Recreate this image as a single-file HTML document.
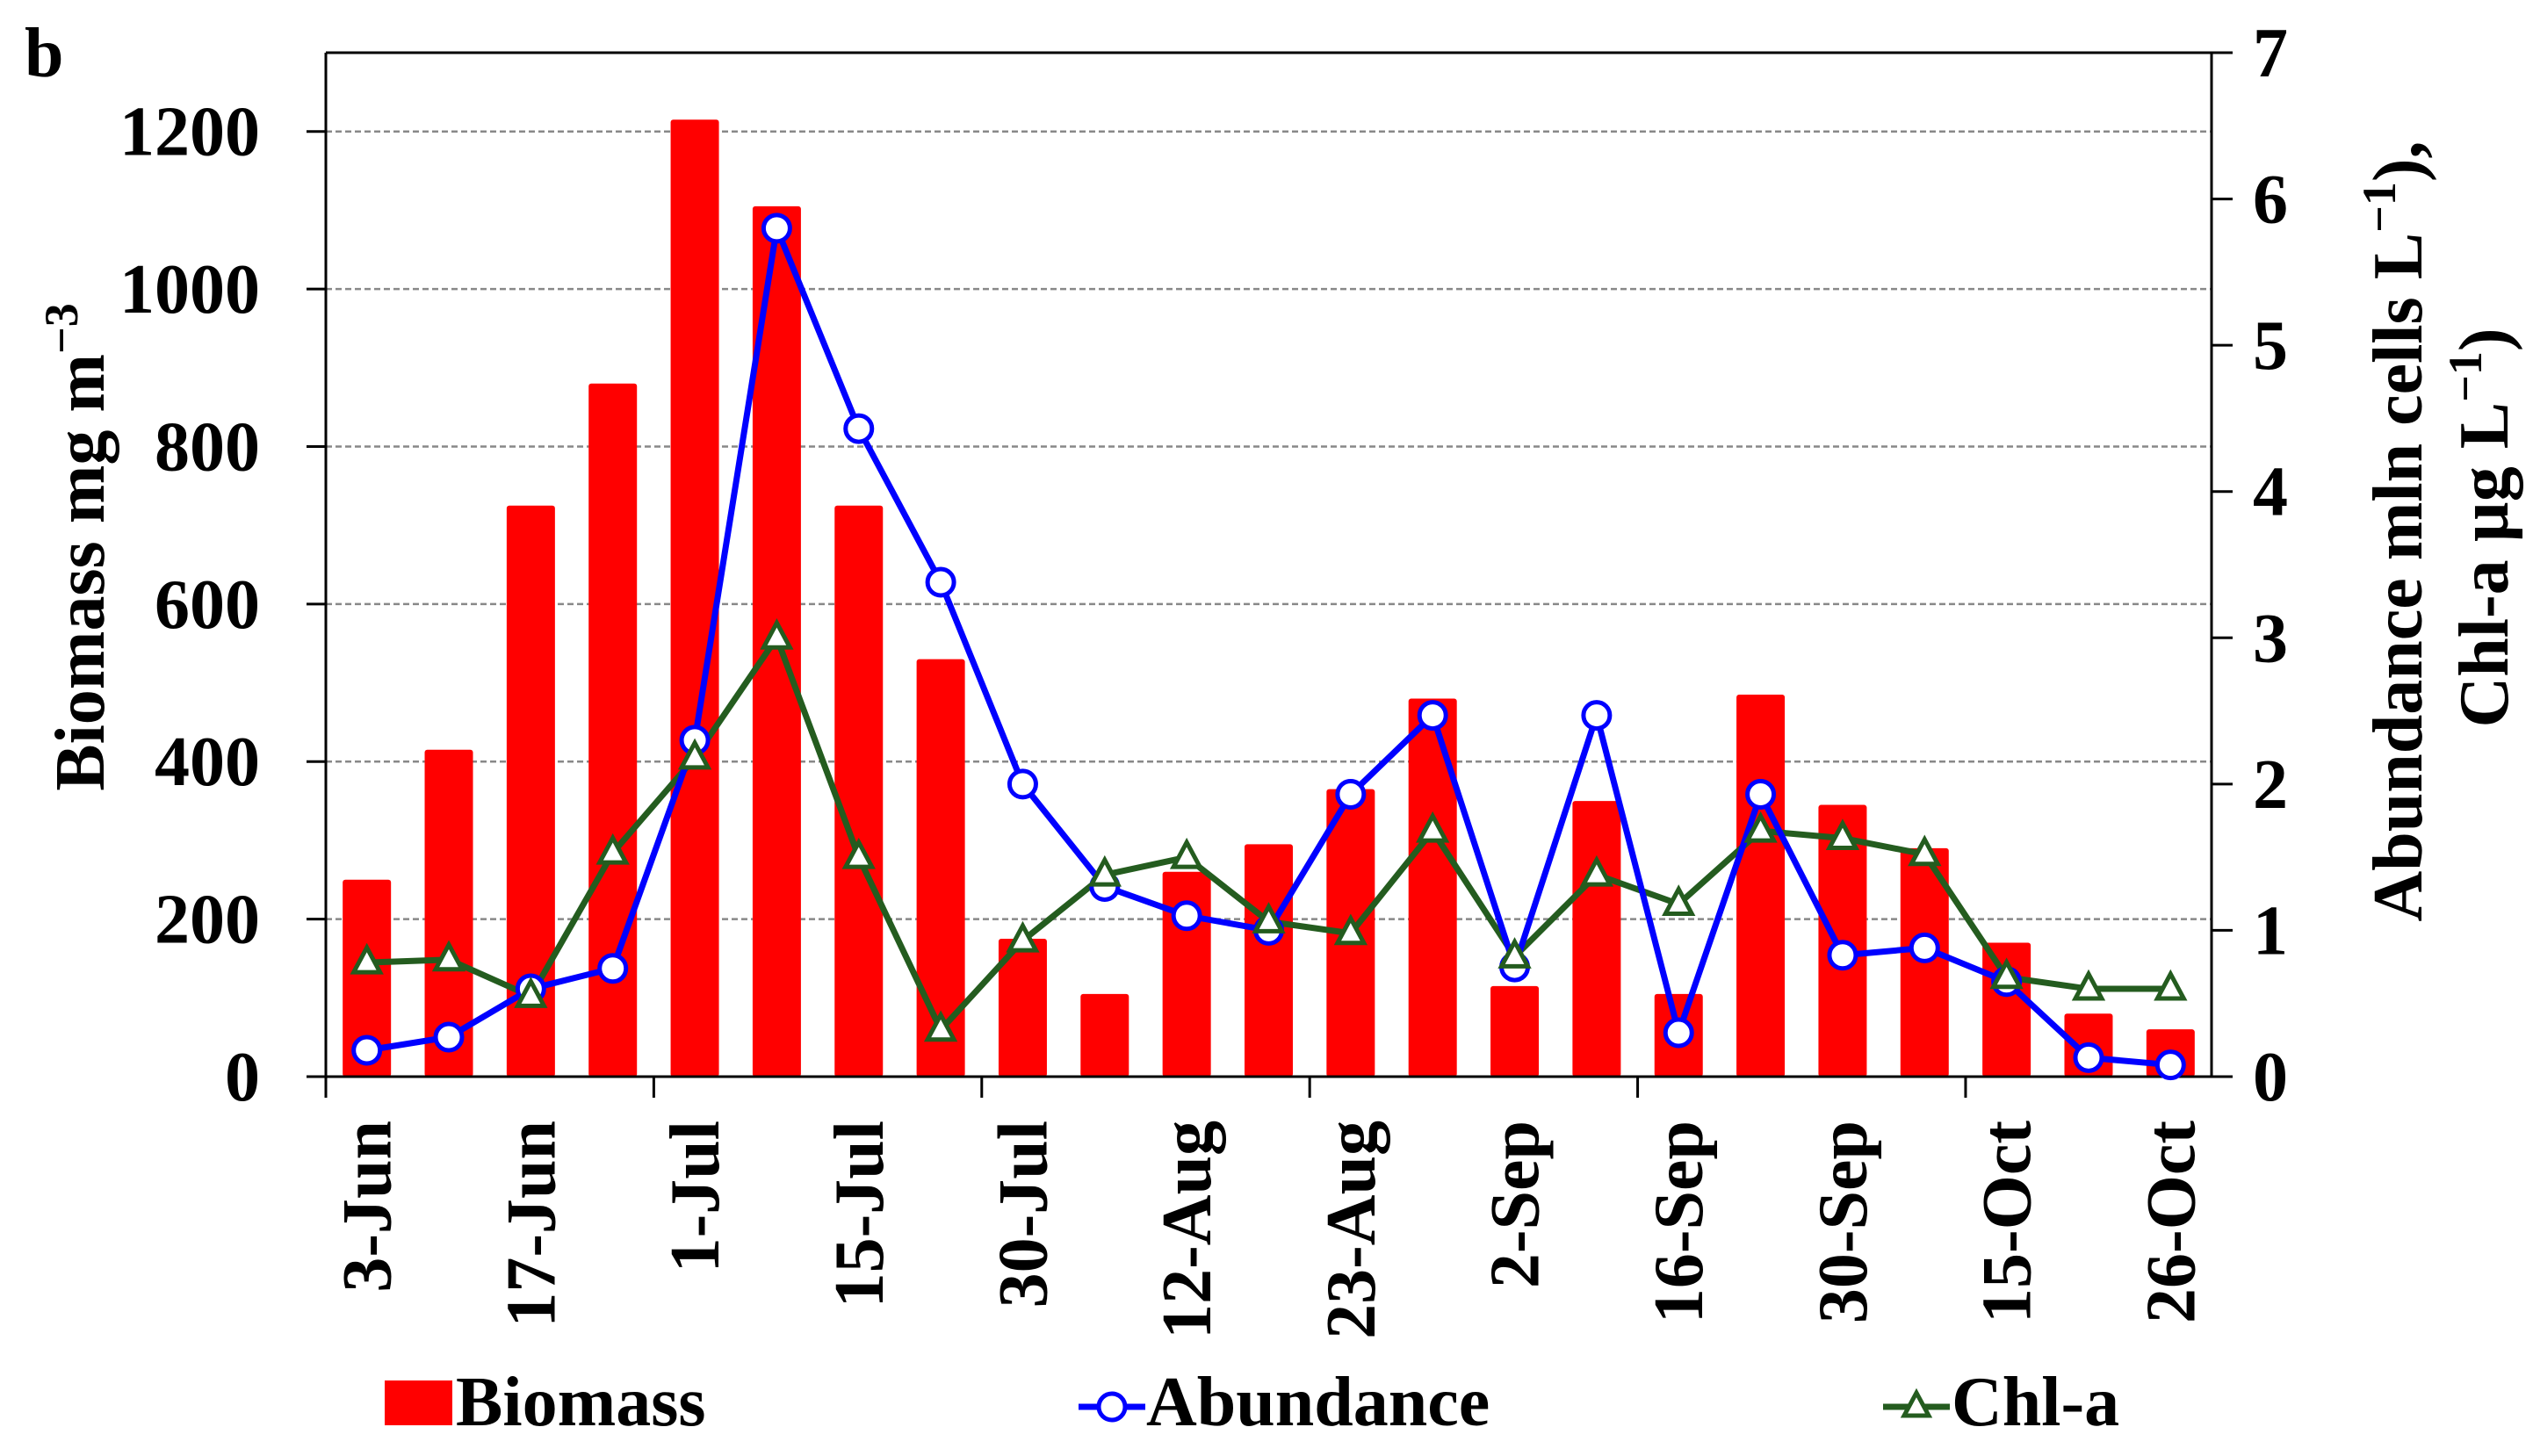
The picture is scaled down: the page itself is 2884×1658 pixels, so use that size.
<!DOCTYPE html>
<html><head><meta charset="utf-8"><style>
html,body{margin:0;padding:0;background:#fff;}
svg{display:block;font-family:"Liberation Serif",serif;font-weight:bold;}
</style></head><body>
<svg id="chart" width="2884" height="1658" viewBox="0 0 2884 1658" xmlns="http://www.w3.org/2000/svg">
<text x="28" y="87" font-size="80">b</text>
<g id="grid"></g><g id="bars"></g><g id="axes"></g><g id="lines"></g>
<text transform="translate(118,623) rotate(-90)" text-anchor="middle" font-size="80">Biomass mg m<tspan dy="-30" font-size="54">−3</tspan></text>
<text transform="translate(2757,605) rotate(-90)" text-anchor="middle" font-size="80">Abundance mln cells L<tspan dy="-30" font-size="54">−1</tspan><tspan dy="30">),</tspan></text>
<text transform="translate(2855,601) rotate(-90)" text-anchor="middle" font-size="80">Chl-a µg L<tspan dy="-30" font-size="54">−1</tspan><tspan dy="30">)</tspan></text>
<g>
<rect x="438" y="1572" width="77" height="51" fill="#ff0000"/>
<text x="519" y="1623" font-size="80">Biomass</text>
<line x1="1228" y1="1602" x2="1304" y2="1602" stroke="#0000ff" stroke-width="7"/>
<circle cx="1266" cy="1602" r="15" fill="#fff" stroke="#0000ff" stroke-width="5"/>
<text x="1305" y="1623" font-size="80">Abundance</text>
<line x1="2144" y1="1602" x2="2220" y2="1602" stroke="#245c1f" stroke-width="7"/>
<polygon points="2182,1586 2196,1612 2168,1612" fill="#fff" stroke="#245c1f" stroke-width="5"/>
<text x="2222" y="1623" font-size="80">Chl-a</text>
</g>
</svg>
<script>
const categories=["3-Jun","10-Jun","17-Jun","24-Jun","1-Jul","8-Jul","15-Jul","22-Jul","30-Jul","5-Aug","12-Aug","19-Aug","23-Aug","27-Aug","2-Sep","9-Sep","16-Sep","23-Sep","30-Sep","7-Oct","15-Oct","21-Oct","26-Oct"];
const biomass=[250,415,725,880,1215,1105,725,530,175,105,260,295,365,480,115,350,105,485,345,290,170,80,60];
const abundance=[0.18,0.27,0.6,0.74,2.3,5.8,4.43,3.38,2.0,1.3,1.1,1.0,1.93,2.47,0.75,2.47,0.3,1.93,0.83,0.88,0.65,0.13,0.08];
const chla=[0.78,0.8,0.55,1.53,2.18,3.0,1.5,0.32,0.93,1.38,1.5,1.06,0.98,1.68,0.82,1.38,1.18,1.68,1.63,1.52,0.68,0.6,0.6];
const leftTicks=[0,200,400,600,800,1000,1200];
const rightTicks=[0,1,2,3,4,5,6,7];

const NS="http://www.w3.org/2000/svg";
const L=371,R=2518,T=60,B=1226;
const bw=(R-L)/categories.length;
const xC=i=>L+bw*(i+0.5);
const yL=v=>B-(B-T)*v/1300;
const yR=v=>B-(B-T)*v/7;
function mk(tag,attrs,parent){const e=document.createElementNS(NS,tag);for(const k in attrs)e.setAttribute(k,attrs[k]);document.getElementById(parent).appendChild(e);return e;}

leftTicks.forEach((t,i)=>{
  if(t>0){const g=mk('line',{x1:L,x2:R,y1:yL(t),y2:yL(t),stroke:'#888',"stroke-width":2.5,"stroke-dasharray":"7,4"},'grid');
  
  }
  const tk=mk('line',{x1:L-22,x2:L,y1:yL(t),y2:yL(t),stroke:'#000',"stroke-width":3},'axes');
  
  
  const tx=mk('text',{x:296,y:yL(t)+27,"text-anchor":"end","font-size":80},'axes');
  tx.textContent=t;
  
  
});
rightTicks.forEach(t=>{
  const tk=mk('line',{x1:R,x2:R+24,y1:yR(t),y2:yR(t),stroke:'#000',"stroke-width":3},'axes');
  
  
  const tx=mk('text',{x:2565,y:yR(t)+27,"font-size":80},'axes');
  tx.textContent=t;
  
  
});
biomass.forEach((v,i)=>{
  const r=mk('rect',{x:xC(i)-27.5,y:yL(v),width:55,height:B-yL(v),fill:'#ff0000',rx:3},'bars');
  
  
});
[[L,T,R,T],[L,T,L,B],[R,T,R,B],[L,B,R,B]].forEach(a=>{
  const ln=mk('line',{x1:a[0],y1:a[1],x2:a[2],y2:a[3],stroke:'#000',"stroke-width":3},'axes');
  
  
});
for(let i=0;i<=categories.length;i+=4){
  const ln=mk('line',{x1:L+bw*i,x2:L+bw*i,y1:B,y2:B+24,stroke:'#000',"stroke-width":3},'axes');
  
  
}
categories.forEach((c,i)=>{
  if(i%2)return;
  const x=xC(i)+27,y=1276;
  const tx=mk('text',{transform:`translate(${x},${y}) rotate(-90)`,"text-anchor":"end","font-size":80},'axes');
  tx.textContent=c;
  
  
});
const chlPts=chla.map((v,i)=>xC(i)+','+yR(v)).join(' ');
const cl=mk('polyline',{points:chlPts,fill:'none',stroke:'#245c1f',"stroke-width":7},'lines');


const abPts=abundance.map((v,i)=>xC(i)+','+yR(v)).join(' ');
const al=mk('polyline',{points:abPts,fill:'none',stroke:'#0000ff',"stroke-width":7},'lines');


abundance.forEach((v,i)=>{
  const c=mk('circle',{cx:xC(i),cy:yR(v),r:15,fill:'#fff',stroke:'#0000ff',"stroke-width":5},'lines');
  
  
});
chla.forEach((v,i)=>{
  const x=xC(i),y=yR(v);
  const p=mk('polygon',{points:`${x},${y-17} ${x+15},${y+11} ${x-15},${y+11}`,fill:'#fff',stroke:'#245c1f',"stroke-width":5},'lines');
  
  
});
</script>
</body></html>
